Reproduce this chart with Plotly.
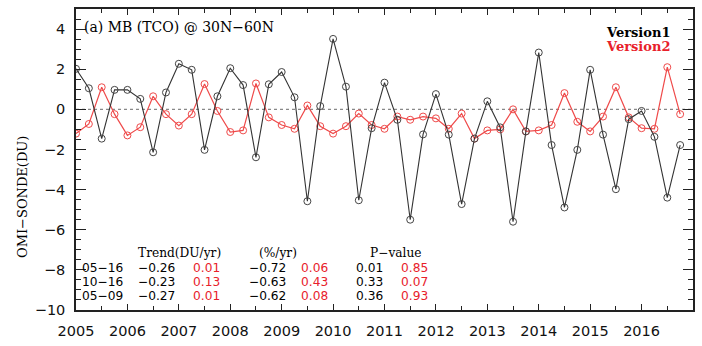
import numpy as np
import plotly.graph_objects as go

# ---------------- data ----------------
time = np.arange(2005, 2017, 0.25)  # seasonal means, 2005-2016
version1 = [2.02, 1.05, -1.46, 0.97, 0.97, 0.52, -2.14, 0.84,
            2.27, 1.97, -2.02, 0.65, 2.05, 1.21, -2.39, 1.25,
            1.86, 0.60, -4.58, 0.16, 3.51, 1.13, -4.53, -0.94,
            1.33, -0.52, -5.50, -1.25, 0.76, -1.26, -4.72, -1.46,
            0.40, -0.90, -5.60, -1.10, 2.83, -1.78, -4.89, -2.02,
            1.97, -1.26, -3.98, -0.49, -0.08, -1.37, -4.40, -1.78]
version2 = [-1.21, -0.73, 1.10, -0.24, -1.30, -0.89, 0.65, -0.24,
            -0.81, -0.24, 1.26, -0.08, -1.13, -1.05, 1.29, -0.40,
            -0.78, -0.97, 0.19, -0.84, -1.21, -0.84, -0.21, -0.78,
            -0.97, -0.36, -0.52, -0.36, -0.45, -0.97, -0.21, -1.46,
            -1.05, -1.00, 0.00, -1.10, -1.05, -0.78, 0.81, -0.62,
            -1.10, -0.36, 1.10, -0.40, -0.94, -0.97, 2.10, -0.24]

x_tick_years = [2005, 2006, 2007, 2008, 2009, 2010, 2011, 2012, 2013, 2014, 2015, 2016]
y_tick_values = [-10, -8, -6, -4, -2, 0, 2, 4]

periods = ["05−16", "10−16", "05−09"]
trend_du_v1 = [-0.26, -0.23, -0.27]
trend_du_v2 = [0.01, 0.13, 0.01]
trend_pct_v1 = [-0.72, -0.63, -0.62]
trend_pct_v2 = [0.06, 0.43, 0.08]
pvalue_v1 = [0.01, 0.33, 0.36]
pvalue_v2 = [0.85, 0.07, 0.93]

# ---------------- layout helpers ----------------
W, H = 702, 346
L, R, T, B = 76, 9, 7, 30
X0, X1 = 2005, 2017
Y0, Y1 = -10, 5
PW, PH = W - L - R, H - T - B


def px2x(px):
    return X0 + (px - L) / PW * (X1 - X0)


def px2y(py):
    return Y1 - (py - T) / PH * (Y1 - Y0)


def fmt(v):
    return f"{v:.2f}".replace("-", "−")


RED = "#e8202a"
BLACK = "#000000"
SERIF = "DejaVu Serif"
SANS = "DejaVu Sans"
TFS = 12.2  # table font size

fig = go.Figure()
fig.add_trace(go.Scatter(
    x=time, y=version2, mode="lines+markers", name="Version2",
    line=dict(color="#ef4a4a", width=1.2),
    marker=dict(symbol="circle-open", size=7, color="#ef4a4a", line=dict(width=1)),
))
fig.add_trace(go.Scatter(
    x=time, y=version1, mode="lines+markers", name="Version1",
    line=dict(color="#333333", width=1.1),
    marker=dict(symbol="circle-open", size=7, color="#444444", line=dict(width=1)),
))

# zero line
fig.add_shape(type="line", xref="paper", yref="y", x0=0, x1=1, y0=0, y1=0,
              line=dict(color="#888888", width=1.2, dash="dot"), layer="below")

ann = []
ann.append(dict(x=px2x(82), y=px2y(25), text="(a) MB (TCO) @ 30N−60N", xanchor="left",
                yanchor="middle", font=dict(family=SERIF, size=14, color=BLACK)))
ann.append(dict(x=px2x(671), y=px2y(31), text="<b>Version1</b>", xanchor="right", borderpad=0,
                yanchor="middle", font=dict(family=SERIF, size=13, color=BLACK)))
ann.append(dict(x=px2x(671), y=px2y(46), text="<b>Version2</b>", xanchor="right", borderpad=0,
                yanchor="middle", font=dict(family=SERIF, size=13, color=RED)))

# table
HY = 257.5
ann.append(dict(x=px2x(137), y=px2y(HY), text="Trend(DU/yr)", xanchor="left", borderpad=0,
                yanchor="middle", font=dict(family=SERIF, size=TFS, color=BLACK)))
ann.append(dict(x=px2x(258), y=px2y(HY), text="(%/yr)", xanchor="left", borderpad=0,
                yanchor="middle", font=dict(family=SERIF, size=TFS, color=BLACK)))
ann.append(dict(x=px2x(369), y=px2y(HY), text="P−value", xanchor="left", borderpad=0,
                yanchor="middle", font=dict(family=SERIF, size=TFS, color=BLACK)))
row_y = [272.5, 287, 301.5]
cols = [
    (81, periods, BLACK),
    (137, [fmt(v) for v in trend_du_v1], BLACK),
    (192, [fmt(v) for v in trend_du_v2], RED),
    (248, [fmt(v) for v in trend_pct_v1], BLACK),
    (300, [fmt(v) for v in trend_pct_v2], RED),
    (355, [fmt(v) for v in pvalue_v1], BLACK),
    (400, [fmt(v) for v in pvalue_v2], RED),
]
for cx, texts, col in cols:
    for ry, t in zip(row_y, texts):
        ann.append(dict(x=px2x(cx), y=px2y(ry), text=t, xanchor="left", yanchor="middle",
                        borderpad=0, font=dict(family=SANS, size=TFS, color=col)))

# y axis title
ann.append(dict(xref="paper", x=-(L - 22) / PW, y=px2y(200), text="OMI−SONDE(DU)",
                textangle=-90, xanchor="center", yanchor="middle",
                font=dict(family=SERIF, size=13, color=BLACK)))

for a in ann:
    a.setdefault("xref", "x")
    a.setdefault("yref", "y")
    a["showarrow"] = False
fig.update_layout(annotations=ann)

fig.update_layout(
    width=W, height=H,
    margin=dict(l=L, r=R, t=T, b=B, pad=0),
    paper_bgcolor="white", plot_bgcolor="white",
    showlegend=False,
    xaxis=dict(range=[X0, X1], tickvals=x_tick_years, ticktext=[str(y) for y in x_tick_years],
               ticks="inside", ticklen=6, tickwidth=1, tickcolor="#222",
               minor=dict(dtick=0.5, ticks="inside", ticklen=4, tickcolor="#222"),
               showline=True, linecolor="#222", linewidth=1.5, mirror="allticks",
               showgrid=False, zeroline=False,
               tickfont=dict(family=SANS, size=14.5, color="#111"), ticklabelstandoff=7),
    yaxis=dict(range=[Y0, Y1], tickvals=y_tick_values,
               ticks="inside", ticklen=10, tickwidth=1, tickcolor="#222",
               minor=dict(dtick=0.5, ticks="inside", ticklen=5, tickcolor="#222"),
               showline=True, linecolor="#222", linewidth=1.5, mirror="allticks",
               showgrid=False, zeroline=False,
               tickfont=dict(family=SANS, size=14.5, color="#111"), ticklabelstandoff=6),
)

fig.write_html("out.html", config={"displayModeBar": False},
               post_script="document.body.style.margin='0px';")
